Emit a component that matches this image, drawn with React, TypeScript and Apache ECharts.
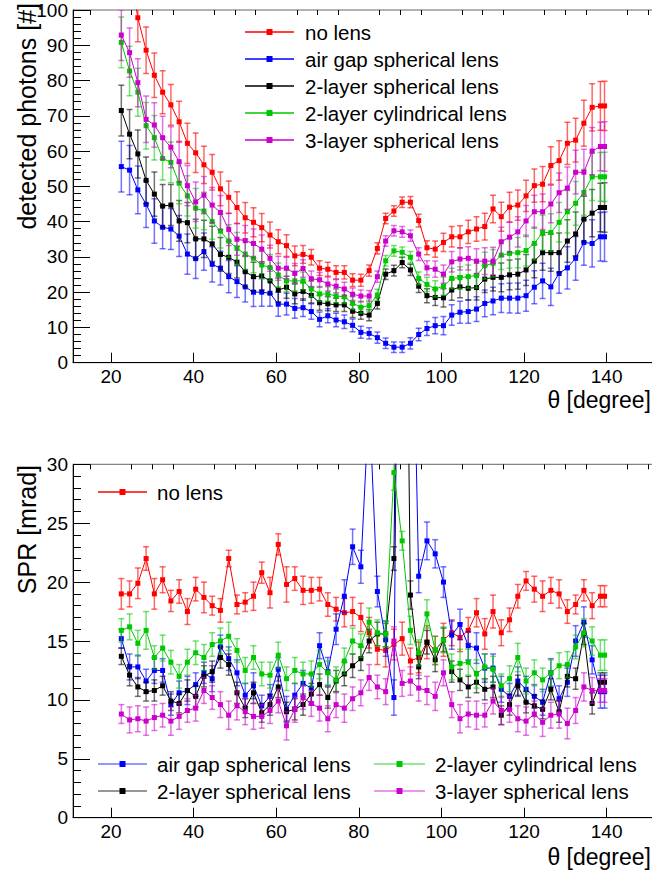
import React, { useEffect, useRef } from 'react';
import * as echarts from 'echarts';

// polar angle theta [degree]
const theta = [
  22.5, 24.5, 26.5, 28.5, 30.5, 32.5, 34.5, 36.5, 38.5, 40.5,
  42.5, 44.5, 46.5, 48.5, 50.5, 52.5, 54.5, 56.5, 58.5, 60.5,
  62.5, 64.5, 66.5, 68.5, 70.5, 72.5, 74.5, 76.5, 78.5, 80.5,
  82.5, 84.5, 86.5, 88.5, 90.5, 92.5, 94.5, 96.5, 98.5, 100.5,
  102.5, 104.5, 106.5, 108.5, 110.5, 112.5, 114.5, 116.5, 118.5, 120.5,
  122.5, 124.5, 126.5, 128.5, 130.5, 132.5, 134.5, 136.5, 138.5, 139.5,
];

const seriesNames = [
  'no lens',
  'air gap spherical lens',
  '2-layer spherical lens',
  '2-layer cylindrical lens',
  '3-layer spherical lens',
];

// detected photons [#]
const photonsNoLens = [
  125, 112, 97.8, 88.6, 81.5, 76.7, 73.1, 68.3, 62.2, 59.5,
  56.1, 54.0, 49.3, 46.9, 44.0, 41.1, 39.8, 38.3, 36.2, 34.3,
  33.2, 30.3, 30.7, 29.9, 26.8, 26.5, 25.6, 25.6, 23.4, 23.4,
  26.1, 32.4, 40.9, 43.0, 45.5, 45.5, 40.3, 32.6, 32.2, 34.1,
  35.7, 35.7, 37.1, 37.9, 38.6, 43.6, 41.4, 44.1, 44.7, 47.3,
  50.2, 50.6, 55.9, 57.3, 62.2, 63.1, 67.9, 72.4, 72.8, 72.8,
];
const photonsAirGap = [
  55.6, 54.6, 49.0, 44.9, 40.2, 38.4, 37.9, 35.9, 30.8, 29.5,
  31.5, 27.9, 26.8, 24.4, 23.0, 21.5, 20.0, 20.0, 19.7, 16.6,
  16.6, 15.4, 15.6, 14.5, 12.3, 13.3, 12.1, 11.6, 10.6, 8.6,
  8.3, 7.1, 5.5, 4.4, 4.4, 5.5, 8.0, 9.7, 10.5, 10.5,
  13.5, 14.3, 14.5, 15.2, 16.8, 17.5, 18.3, 18.3, 18.3, 19.0,
  21.4, 23.2, 21.5, 25.3, 26.9, 29.6, 34.1, 33.8, 35.7, 35.7,
];
const photons2LayerSph = [
  71.5, 64.8, 59.2, 51.7, 47.8, 44.4, 44.7, 40.2, 39.7, 35.1,
  35.1, 33.7, 30.7, 29.9, 28.5, 25.8, 24.4, 24.6, 23.2, 20.6,
  21.4, 19.5, 20.2, 19.1, 17.0, 16.7, 16.4, 16.4, 14.6, 14.0,
  13.5, 16.8, 25.1, 26.1, 28.4, 26.3, 21.7, 19.0, 18.5, 18.4,
  20.6, 21.5, 21.1, 21.3, 23.7, 24.2, 24.2, 24.9, 25.1, 26.3,
  28.8, 31.2, 31.2, 31.2, 34.5, 36.5, 40.7, 42.4, 44.0, 44.0,
];
const photons2LayerCyl = [
  90.8, 82.7, 76.7, 67.2, 63.8, 57.9, 56.8, 50.9, 47.3, 43.8,
  43.0, 40.0, 37.3, 34.5, 32.4, 30.8, 29.6, 27.7, 27.0, 24.9,
  23.2, 23.2, 23.2, 20.9, 19.5, 19.5, 18.9, 18.7, 16.9, 15.7,
  16.2, 19.2, 28.9, 31.7, 31.3, 29.9, 23.9, 22.2, 20.9, 21.7,
  23.9, 24.1, 24.4, 24.7, 27.5, 28.2, 30.5, 31.0, 31.2, 31.8,
  33.8, 36.9, 36.9, 39.8, 42.8, 45.2, 48.3, 52.7, 52.7, 52.7,
];
const photons3LayerSph = [
  92.9, 87.9, 79.4, 69.0, 67.4, 63.8, 61.1, 57.0, 50.2, 45.6,
  47.5, 44.7, 42.6, 37.8, 35.0, 34.6, 33.8, 32.2, 29.6, 26.8,
  26.8, 25.3, 26.7, 23.8, 23.5, 22.3, 21.7, 20.9, 19.4, 18.9,
  18.9, 24.4, 34.5, 37.4, 37.1, 36.0, 30.8, 26.9, 26.5, 25.1,
  28.6, 29.4, 29.6, 28.8, 28.8, 28.8, 34.3, 35.6, 37.1, 40.2,
  42.8, 42.8, 45.0, 48.2, 49.5, 54.0, 54.0, 60.0, 61.3, 61.3,
];
// error of detected photons (same size for all configurations at a given angle)
const photonsErr = [
  7.2, 7.0, 6.8, 6.6, 6.3, 6.1, 5.8, 5.8, 5.7, 5.6,
  5.3, 5.0, 4.8, 4.6, 4.5, 4.3, 4.1, 4.0, 3.7, 3.4,
  3.1, 2.8, 2.5, 2.2, 2.1, 2.0, 1.9, 1.9, 1.8, 1.7,
  1.6, 1.6, 1.5, 1.5, 1.5, 1.6, 1.8, 2.0, 2.3, 2.6,
  2.9, 3.1, 3.3, 3.5, 3.8, 3.9, 4.1, 4.2, 4.3, 4.4,
  4.7, 5.0, 5.3, 5.6, 6.0, 6.2, 6.5, 6.7, 6.9, 7.0,
];

// SPR [mrad]
const sprNoLens = [
  19.0, 19.0, 19.9, 22.0, 19.0, 20.2, 18.4, 19.2, 17.5, 19.4,
  18.7, 18.0, 17.6, 22.0, 18.1, 18.3, 18.8, 20.8, 19.1, 23.2,
  19.8, 20.3, 19.3, 19.3, 19.4, 18.1, 17.7, 17.4, 17.5, 17.0,
  15.7, 14.3, 14.2, 14.7, 15.2, 13.3, 13.6, 14.9, 14.2, 15.1,
  15.7, 15.3, 15.9, 17.4, 15.6, 17.5, 15.7, 16.8, 18.8, 20.1,
  19.4, 18.8, 19.3, 19.0, 17.5, 18.1, 19.3, 18.0, 18.8, 18.8,
];
const sprAirGap = [
  15.2, 12.8, 12.8, 11.6, 12.5, 12.5, 9.6, 10.6, 10.8, 11.3,
  12.3, 11.8, 14.5, 13.5, 12.3, 10.4, 11.2, 9.5, 10.3, 12.6,
  9.2, 10.4, 11.4, 11.0, 14.6, 12.4, 16.0, 18.8, 23.0, 21.3,
  35.5, 19.2, 15.1, 10.2, 90.0, 54.0, 20.5, 23.5, 22.4, 20.0,
  15.5, 16.4, 14.6, 14.4, 12.7, 12.7, 10.9, 10.3, 11.6, 10.9,
  10.3, 9.8, 12.3, 10.1, 11.5, 15.0, 16.6, 13.4, 10.7, 10.7,
];
const spr2LayerSph = [
  13.7, 12.1, 11.1, 10.7, 10.8, 11.2, 9.9, 9.7, 10.8, 10.3,
  12.0, 12.4, 13.6, 13.0, 10.6, 9.3, 10.6, 8.9, 9.6, 11.1,
  9.0, 9.2, 9.6, 10.5, 11.3, 10.2, 11.6, 12.2, 12.9, 13.5,
  15.0, 15.6, 15.6, 22.0, 80.0, 18.9, 12.8, 14.9, 13.4, 15.1,
  12.4, 11.7, 11.1, 11.5, 10.9, 11.1, 8.7, 9.6, 11.2, 9.8,
  9.5, 9.2, 10.9, 9.0, 12.0, 11.8, 15.6, 9.7, 11.5, 11.5,
];
const spr2LayerCyl = [
  15.9, 16.2, 14.8, 15.9, 13.6, 14.4, 13.2, 12.0, 13.2, 14.0,
  13.6, 14.7, 15.0, 15.4, 14.2, 12.5, 13.6, 12.2, 12.1, 13.8,
  11.8, 12.5, 12.2, 12.2, 13.0, 12.3, 11.7, 13.3, 15.0, 14.6,
  16.6, 15.7, 15.6, 29.3, 23.5, 15.9, 14.0, 17.3, 14.2, 15.1,
  12.8, 13.1, 13.2, 12.2, 12.8, 12.6, 11.2, 11.8, 13.6, 11.6,
  12.3, 11.7, 12.3, 12.9, 13.0, 14.5, 15.7, 15.0, 13.8, 13.8,
];
const spr3LayerSph = [
  8.8, 8.3, 8.4, 8.2, 8.5, 8.7, 8.2, 8.6, 9.1, 9.3,
  10.8, 10.2, 9.6, 8.7, 9.5, 9.0, 8.6, 8.6, 9.1, 9.9,
  7.8, 9.2, 10.2, 9.7, 9.3, 8.4, 9.6, 9.3, 10.1, 10.6,
  11.9, 11.1, 10.7, 15.0, 11.4, 11.6, 11.0, 10.8, 10.3, 12.3,
  9.6, 8.4, 8.8, 8.7, 8.7, 9.9, 9.1, 9.2, 8.4, 8.2,
  8.8, 8.1, 8.7, 8.8, 8.0, 9.1, 11.1, 10.8, 10.8, 10.8,
];
const sprErrNoLens = [
  1.3, 1.1, 1.3, 1.0, 1.3, 1.1, 0.9, 1.0, 1.1, 1.0,
  1.3, 0.8, 1.0, 0.7, 0.8, 0.8, 1.2, 0.9, 1.3, 0.9,
  1.5, 1.0, 1.2, 1.1, 1.0, 1.0, 1.0, 1.2, 1.2, 1.2,
  1.3, 1.3, 1.4, 1.3, 1.4, 1.1, 1.3, 1.4, 1.2, 1.4,
  1.1, 1.2, 1.1, 1.2, 1.3, 1.4, 1.1, 1.0, 1.0, 0.8,
  1.1, 1.3, 1.1, 1.2, 1.0, 0.8, 0.9, 1.1, 0.9, 0.9,
];
const sprErrAirGap = [
  0.8, 1.1, 1.0, 1.0, 1.1, 1.0, 0.9, 1.0, 1.2, 1.0,
  0.9, 1.1, 1.0, 1.0, 1.1, 1.0, 1.1, 0.9, 1.0, 1.0,
  1.1, 1.0, 1.1, 1.2, 1.1, 1.2, 1.3, 1.4, 1.5, 1.4,
  1.6, 1.3, 1.4, 1.5, 2.0, 1.8, 1.4, 1.6, 1.2, 1.3,
  1.2, 1.3, 1.2, 1.3, 1.2, 1.2, 1.1, 1.1, 1.2, 1.1,
  1.0, 1.1, 1.2, 1.1, 1.2, 1.3, 1.3, 1.2, 1.4, 1.4,
];
const sprErr2LayerSph = [
  0.7, 0.9, 0.8, 0.8, 0.9, 0.8, 0.8, 0.8, 0.9, 0.9,
  0.9, 0.9, 0.9, 0.9, 0.9, 0.8, 0.9, 0.8, 0.9, 0.9,
  0.8, 0.9, 0.9, 0.9, 0.9, 0.9, 0.9, 1.0, 1.0, 1.0,
  1.0, 1.0, 1.1, 1.0, 2.0, 1.2, 1.0, 1.0, 1.0, 1.0,
  0.9, 0.9, 0.9, 0.9, 0.9, 0.9, 0.8, 0.9, 0.9, 0.9,
  0.9, 0.8, 0.9, 0.9, 0.9, 0.9, 0.9, 0.9, 0.8, 0.8,
];
const sprErr2LayerCyl = [
  1.0, 1.1, 1.1, 1.6, 1.0, 1.1, 1.0, 1.0, 1.1, 1.0,
  1.1, 1.0, 1.1, 1.2, 1.0, 1.1, 1.0, 1.0, 1.1, 1.1,
  1.0, 1.1, 1.0, 1.1, 1.2, 1.0, 1.1, 1.1, 1.1, 1.0,
  1.2, 1.1, 1.1, 1.5, 0.8, 1.2, 1.1, 1.2, 1.2, 1.1,
  1.1, 1.2, 1.1, 1.2, 1.1, 1.1, 1.0, 1.1, 1.2, 1.1,
  1.1, 1.0, 1.1, 1.1, 1.1, 1.0, 1.2, 1.2, 1.3, 1.3,
];
const sprErr3LayerSph = [
  0.8, 1.1, 1.1, 1.2, 1.1, 1.0, 1.2, 1.1, 1.0, 1.1,
  1.1, 1.0, 1.1, 1.2, 1.2, 1.1, 1.1, 1.0, 1.1, 1.0,
  1.2, 1.1, 1.0, 1.1, 1.1, 1.1, 1.1, 1.2, 1.0, 1.1,
  1.1, 1.0, 1.1, 1.2, 1.1, 1.2, 1.1, 1.2, 1.2, 1.1,
  1.1, 1.2, 1.1, 1.2, 1.0, 1.1, 1.2, 1.1, 1.1, 1.2,
  1.1, 1.2, 1.1, 1.2, 1.3, 1.1, 1.2, 1.1, 1.0, 1.0,
];

// axis ticks
const thetaMajorTicks = [20, 40, 60, 80, 100, 120, 140];
const thetaMinorTicks = [15, 25, 30, 35, 45, 50, 55, 65, 70, 75, 85, 90, 95, 105, 110, 115, 125, 130, 135, 145, 150, 155];

const colors = ['#ff0000', '#0000ff', '#000000', '#00c800', '#cc00cc'];
const errColors = [
  'rgba(255,0,0,0.6)',
  'rgba(0,0,255,0.55)',
  'rgba(0,0,0,0.55)',
  'rgba(0,200,0,0.55)',
  'rgba(204,0,204,0.55)',
];

const photonSeries = [photonsNoLens, photonsAirGap, photons2LayerSph, photons2LayerCyl, photons3LayerSph];
const sprSeries = [sprNoLens, sprAirGap, spr2LayerSph, spr2LayerCyl, spr3LayerSph];
const sprErrors = [sprErrNoLens, sprErrAirGap, sprErr2LayerSph, sprErr2LayerCyl, sprErr3LayerSph];

const FONT = '"Liberation Sans", Arial, Helvetica, sans-serif';

const X_MIN = 10.8;
const X_MAX = 155.35;

function errRender(color: string) {
  return (params: any, api: any) => {
    const x = api.value(0);
    const y = api.value(1);
    const e = api.value(2);
    const top = api.coord([x, y + e]);
    const bot = api.coord([x, y - e]);
    const w = 3;
    const style = { stroke: color, lineWidth: 1.5 };
    return {
      type: 'group',
      children: [
        { type: 'line', shape: { x1: top[0], y1: top[1], x2: bot[0], y2: bot[1] }, style },
        { type: 'line', shape: { x1: top[0] - w, y1: top[1], x2: top[0] + w, y2: top[1] }, style },
        { type: 'line', shape: { x1: bot[0] - w, y1: bot[1], x2: bot[0] + w, y2: bot[1] }, style },
      ],
    };
  };
}

function xAxesFor(gridIndex: number) {
  return [
    {
      type: 'value',
      gridIndex,
      min: X_MIN,
      max: X_MAX,
      axisLine: { show: true, lineStyle: { color: '#000', width: 1 } },
      axisTick: { show: true, inside: true, length: 10, customValues: thetaMajorTicks, lineStyle: { color: '#000' } },
      axisLabel: { show: true, customValues: thetaMajorTicks, color: '#000', fontSize: 19, fontFamily: FONT, margin: 4 },
      splitLine: { show: false },
    },
    {
      type: 'value',
      gridIndex,
      min: X_MIN,
      max: X_MAX,
      axisLine: { show: false },
      axisTick: { show: true, inside: true, length: 5, customValues: thetaMinorTicks, lineStyle: { color: '#000' } },
      axisLabel: { show: false },
      splitLine: { show: false },
    },
  ];
}

function yAxisFor(gridIndex: number, max: number, interval: number) {
  return {
    type: 'value',
    gridIndex,
    min: 0,
    max,
    interval,
    axisLine: { show: true, lineStyle: { color: '#000', width: 1 } },
    axisTick: { show: true, inside: true, length: 17, lineStyle: { color: '#000' } },
    minorTick: { show: true, splitNumber: 5, length: 8, lineStyle: { color: '#000' } },
    axisLabel: { color: '#000', fontSize: 19, fontFamily: FONT, margin: 5 },
    splitLine: { show: false },
  };
}

function legendEntry(idx: number, x1: number, x2: number, y: number, textX: number, faded: boolean) {
  const c = colors[idx];
  const lineColor = faded ? errColors[idx] : c;
  return [
    { type: 'line', shape: { x1, y1: y, x2, y2: y }, style: { stroke: lineColor, lineWidth: 1.5 } },
    { type: 'rect', shape: { x: (x1 + x2) / 2 - 3, y: y - 3, width: 6, height: 6 }, style: { fill: c } },
    {
      type: 'text',
      x: textX,
      y,
      style: { text: seriesNames[idx], fill: '#000', font: `20.5px ${FONT}`, textAlign: 'left', textVerticalAlign: 'middle' },
    },
  ];
}

export default function App() {
  const ref = useRef<HTMLDivElement>(null);

  useEffect(() => {
    if (!ref.current) return;
    const chart = echarts.init(ref.current, undefined, { renderer: 'svg' });

    const series: any[] = [];
    // top: detected photons
    photonSeries.forEach((vals, k) => {
      series.push({
        type: 'custom',
        name: seriesNames[k] + ' err',
        xAxisIndex: 0,
        yAxisIndex: 0,
        coordinateSystem: 'cartesian2d',
        clip: true,
        renderItem: errRender(errColors[k]),
        encode: { x: 0, y: 1 },
        data: theta.map((t, i) => [t, vals[i], photonsErr[i]]),
        z: 2 + k,
      });
      series.push({
        type: 'line',
        name: seriesNames[k],
        xAxisIndex: 0,
        yAxisIndex: 0,
        clip: true,
        symbol: 'rect',
        symbolSize: 5,
        lineStyle: { color: colors[k], width: 1 },
        itemStyle: { color: colors[k] },
        data: theta.map((t, i) => [t, vals[i]]),
        z: 2 + k,
      });
    });
    // bottom: SPR
    sprSeries.forEach((vals, k) => {
      series.push({
        type: 'custom',
        name: seriesNames[k] + ' spr err',
        xAxisIndex: 2,
        yAxisIndex: 1,
        coordinateSystem: 'cartesian2d',
        clip: true,
        renderItem: errRender(errColors[k]),
        encode: { x: 0, y: 1 },
        data: theta.map((t, i) => [t, vals[i], sprErrors[k][i]]),
        z: 2 + k,
      });
      series.push({
        type: 'line',
        name: seriesNames[k] + ' spr',
        xAxisIndex: 2,
        yAxisIndex: 1,
        clip: true,
        symbol: 'rect',
        symbolSize: 5,
        lineStyle: { color: colors[k], width: 1 },
        itemStyle: { color: colors[k] },
        data: theta.map((t, i) => [t, vals[i]]),
        z: 2 + k,
      });
    });

    const graphics: any[] = [];
    // top legend
    [32, 59, 86, 113, 140].forEach((y, k) => {
      graphics.push(...legendEntry(k, 245, 294, y, 305, false));
    });
    // bottom legends
    graphics.push(...legendEntry(0, 98, 147, 492, 157, false));
    graphics.push(...legendEntry(1, 98, 147, 764, 157, true));
    graphics.push(...legendEntry(2, 98, 147, 791, 157, true));
    graphics.push(...legendEntry(3, 374, 425, 764, 435, true));
    graphics.push(...legendEntry(4, 374, 425, 791, 435, true));
    // axis titles
    graphics.push({
      type: 'text', x: 27, y: 3, rotation: Math.PI / 2,
      style: { text: 'detected photons [#]', fill: '#000', font: `25px ${FONT}`, textAlign: 'right', textVerticalAlign: 'middle' },
    });
    graphics.push({
      type: 'text', x: 27, y: 465, rotation: Math.PI / 2,
      style: { text: 'SPR [mrad]', fill: '#000', font: `25px ${FONT}`, textAlign: 'right', textVerticalAlign: 'middle' },
    });
    graphics.push({
      type: 'text', x: 651, y: 400,
      style: { text: 'θ [degree]', fill: '#000', font: `23px ${FONT}`, textAlign: 'right', textVerticalAlign: 'middle' },
    });
    graphics.push({
      type: 'text', x: 651, y: 857,
      style: { text: 'θ [degree]', fill: '#000', font: `23px ${FONT}`, textAlign: 'right', textVerticalAlign: 'middle' },
    });

    chart.setOption({
      animation: false,
      backgroundColor: '#ffffff',
      textStyle: { fontFamily: FONT },
      grid: [
        { left: 73, top: 10, width: 597, height: 352.7, show: true, borderColor: '#666', borderWidth: 1, backgroundColor: 'transparent' },
        { left: 73, top: 464.3, width: 597, height: 353.4, show: true, borderColor: '#666', borderWidth: 1, backgroundColor: 'transparent' },
      ],
      xAxis: [...xAxesFor(0), ...xAxesFor(1)],
      yAxis: [yAxisFor(0, 100, 10), yAxisFor(1, 30, 5)],
      series,
      graphic: graphics,
    });

    return () => chart.dispose();
  }, []);

  return (
    <div style={{ position: 'absolute', left: 0, top: 0, width: 652, height: 870, overflow: 'hidden', background: '#fff' }}>
      <div ref={ref} style={{ width: 700, height: 870 }} />
    </div>
  );
}
